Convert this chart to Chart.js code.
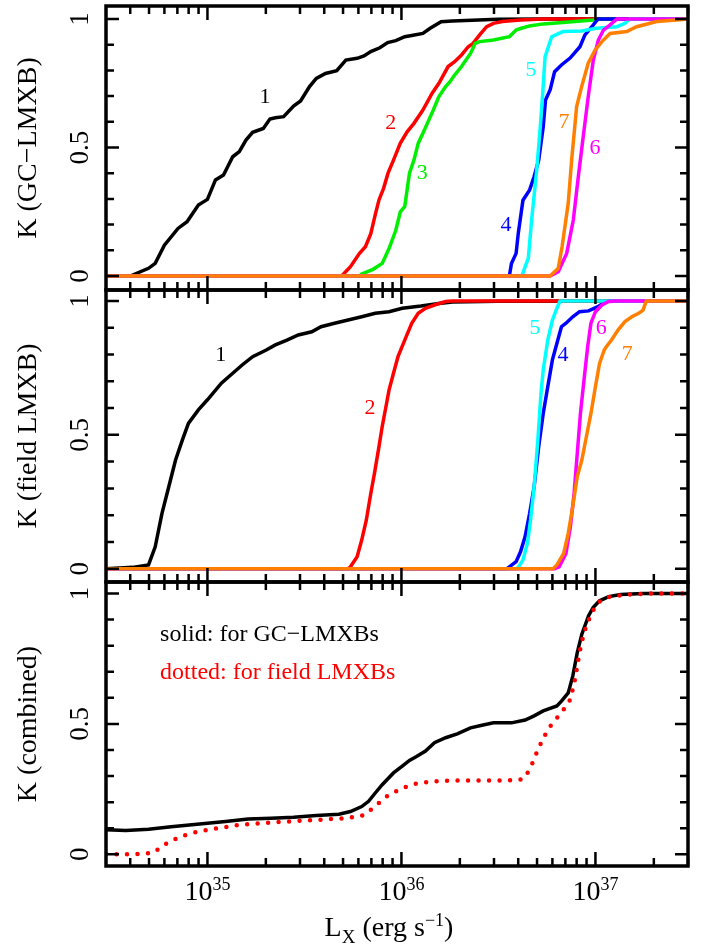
<!DOCTYPE html>
<html>
<head>
<meta charset="utf-8">
<script src="https://cdn.jsdelivr.net/npm/chart.js@4.4.0/dist/chart.umd.min.js"></script>
<style>
  html, body { margin: 0; padding: 0; background: #fff; }
  #wrap { position: relative; width: 710px; height: 946px; }
  #wrap canvas { position: absolute; left: 0; top: 0; }
</style>
</head>
<body>
<div id="wrap">
  <canvas id="panel-gc" width="710" height="946"></canvas>
  <canvas id="panel-field" width="710" height="946"></canvas>
  <canvas id="panel-comb" width="710" height="946"></canvas>
</div>
<script>
// x axis: L_X in erg/s (log), y axis: cumulative fraction K
const X_MIN = 3e34, X_MAX = 3e37;
const xDecades = [35, 36, 37];
const yTickLabels = ['0', '0.5', '1'];

// top panel: GC-LMXB
const gcCurve1 = [[3e34,0],[4.0e34,0],[4.97e34,0.030],[5.38e34,0.049],[6.0e34,0.120],[7.05e34,0.185],[7.85e34,0.211],[8.98e34,0.276],[1.0e35,0.298],[1.10e35,0.374],[1.21e35,0.393],[1.35e35,0.464],[1.46e35,0.484],[1.58e35,0.529],[1.71e35,0.559],[1.94e35,0.574],[2.10e35,0.611],[2.24e35,0.616],[2.47e35,0.620],[2.78e35,0.661],[3.02e35,0.681],[3.36e35,0.737],[3.64e35,0.769],[4.06e35,0.788],[4.64e35,0.799],[5.17e35,0.840],[5.91e35,0.847],[6.41e35,0.856],[6.95e35,0.873],[7.74e35,0.888],[8.49e35,0.908],[9.35e35,0.916],[1.04e36,0.931],[1.13e36,0.936],[1.29e36,0.944],[1.40e36,0.963],[1.60e36,0.989],[1.83e36,0.992],[3.14e36,0.999],[5.38e36,1],[3e37,1]];
const gcCurve2 = [[3e34,0],[4.90e35,0],[5.03e35,0.008],[5.46e35,0.036],[6.08e35,0.088],[6.52e35,0.114],[6.95e35,0.165],[7.33e35,0.239],[7.66e35,0.296],[8.09e35,0.341],[8.53e35,0.400],[9.10e35,0.451],[9.86e35,0.516],[1.07e36,0.561],[1.16e36,0.594],[1.29e36,0.646],[1.44e36,0.711],[1.56e36,0.750],[1.74e36,0.815],[1.88e36,0.834],[2.04e36,0.860],[2.21e36,0.892],[2.34e36,0.905],[2.53e36,0.938],[2.75e36,0.970],[2.98e36,0.983],[3.31e36,0.990],[4.11e36,0.996],[5.38e36,1],[3e37,1]];
const gcCurve3 = [[3e34,0],[6.08e35,0],[6.24e35,0.008],[7.14e35,0.026],[7.96e35,0.049],[8.63e35,0.107],[9.35e35,0.178],[9.87e35,0.250],[1.04e36,0.270],[1.10e36,0.400],[1.16e36,0.451],[1.22e36,0.516],[1.29e36,0.555],[1.36e36,0.594],[1.46e36,0.646],[1.56e36,0.698],[1.69e36,0.737],[1.78e36,0.756],[1.88e36,0.782],[2.04e36,0.815],[2.27e36,0.866],[2.40e36,0.905],[2.53e36,0.912],[2.98e36,0.918],[3.60e36,0.931],[3.90e36,0.957],[4.11e36,0.963],[4.58e36,0.973],[5.38e36,0.981],[7.05e36,0.987],[9.73e36,0.996],[1.08e37,1],[3e37,1]];
const gcCurve4 = [[3e34,0],[3.60e36,0],[3.69e36,0.049],[3.90e36,0.088],[4.00e36,0.165],[4.23e36,0.295],[4.58e36,0.335],[4.83e36,0.387],[5.10e36,0.451],[5.38e36,0.581],[5.53e36,0.685],[5.84e36,0.724],[6.16e36,0.795],[6.68e36,0.821],[7.40e36,0.848],[8.32e36,0.892],[8.83e36,0.938],[9.73e36,0.976],[1.03e37,1],[3e37,1]];
const gcCurve5 = [[3e34,0],[4.17e36,0],[4.51e36,0.070],[4.69e36,0.218],[4.98e36,0.412],[5.18e36,0.568],[5.35e36,0.712],[5.50e36,0.853],[5.95e36,0.931],[6.80e36,0.951],[8.50e36,0.953],[1.01e37,0.964],[1.29e37,0.970],[1.42e37,0.983],[1.50e37,1],[3e37,1]];
const gcCurve6 = [[3e34,0],[5.84e36,0],[6.43e36,0.017],[7.11e36,0.088],[7.69e36,0.218],[8.16e36,0.386],[8.65e36,0.542],[9.18e36,0.698],[9.75e36,0.840],[1.035e37,0.918],[1.10e37,0.957],[1.19e37,0.977],[1.29e37,1],[3e37,1]];
const gcCurve7 = [[3e34,0],[5.84e36,0],[6.43e36,0.030],[6.73e36,0.114],[7.24e36,0.283],[7.54e36,0.451],[8.00e36,0.659],[8.49e36,0.737],[9.18e36,0.828],[9.95e36,0.879],[1.08e37,0.912],[1.19e37,0.944],[1.45e37,0.951],[1.63e37,0.970],[2.07e37,0.990],[2.62e37,0.996],[3e37,1]];

// middle panel: field LMXB
const fdCurve1 = [[3e34,0],[4.11e34,0.005],[4.97e34,0.014],[5.38e34,0.082],[5.83e34,0.207],[6.32e34,0.306],[6.85e34,0.406],[7.43e34,0.481],[7.98e34,0.543],[8.98e34,0.593],[1.0e35,0.631],[1.18e35,0.693],[1.35e35,0.730],[1.51e35,0.761],[1.71e35,0.792],[2.01e35,0.817],[2.24e35,0.836],[2.57e35,0.854],[2.94e35,0.873],[3.45e35,0.885],[3.85e35,0.904],[4.52e35,0.917],[5.31e35,0.929],[6.24e35,0.941],[7.33e35,0.954],[8.63e35,0.960],[1.01e36,0.973],[1.26e36,0.981],[1.56e36,0.991],[1.83e36,0.996],[3.14e36,0.999],[3e37,1]];
const fdCurve2 = [[3e34,0],[5.31e35,0],[5.46e35,0.007],[5.91e35,0.045],[6.24e35,0.107],[6.59e35,0.181],[6.95e35,0.281],[7.26e35,0.356],[7.66e35,0.456],[7.96e35,0.531],[8.26e35,0.593],[8.63e35,0.667],[9.10e35,0.730],[9.60e35,0.792],[1.04e36,0.854],[1.13e36,0.917],[1.22e36,0.954],[1.33e36,0.973],[1.48e36,0.985],[1.69e36,0.998],[1.83e36,1],[3e37,1]];
const fdCurve4 = [[3e34,0],[3.50e36,0],[3.60e36,0.007],[3.90e36,0.026],[4.11e36,0.063],[4.34e36,0.120],[4.58e36,0.207],[4.83e36,0.306],[5.10e36,0.456],[5.38e36,0.580],[5.68e36,0.680],[6.00e36,0.780],[6.26e36,0.829],[6.68e36,0.904],[7.05e36,0.917],[7.64e36,0.941],[8.28e36,0.960],[9.22e36,0.963],[1.03e37,0.979],[1.11e37,0.994],[1.17e37,1],[3e37,1]];
const fdCurve5 = [[3e34,0],[3.90e36,0],[4.00e36,0.005],[4.23e36,0.032],[4.46e36,0.095],[4.63e36,0.182],[4.83e36,0.306],[5.05e36,0.481],[5.24e36,0.655],[5.38e36,0.742],[5.68e36,0.854],[6.00e36,0.929],[6.33e36,0.973],[6.57e36,1],[3e37,1]];
const fdCurve6 = [[3e34,0],[6.16e36,0],[6.50e36,0.007],[7.05e36,0.057],[7.43e36,0.157],[7.76e36,0.281],[8.06e36,0.431],[8.37e36,0.580],[8.73e36,0.705],[9.12e36,0.829],[9.48e36,0.917],[1.0e37,0.960],[1.08e37,0.985],[1.17e37,0.998],[1.27e37,1],[3e37,1]];
const fdCurve7 = [[3e34,0],[6.05e36,0],[6.33e36,0.014],[6.86e36,0.057],[7.24e36,0.132],[7.64e36,0.232],[8.06e36,0.344],[8.51e36,0.406],[8.98e36,0.493],[9.48e36,0.580],[1.0e37,0.680],[1.05e37,0.767],[1.11e37,0.817],[1.14e37,0.830],[1.21e37,0.854],[1.31e37,0.892],[1.42e37,0.923],[1.54e37,0.941],[1.67e37,0.954],[1.76e37,0.966],[1.81e37,0.991],[1.83e37,1],[3e37,1]];

// bottom panel: combined
const combGC = [[3e34,0.094],[3.79e34,0.091],[4.97e34,0.096],[6.50e34,0.106],[1.0e35,0.119],[1.24e35,0.126],[1.62e35,0.135],[2.13e35,0.138],[2.78e35,0.142],[3.64e35,0.149],[4.76e35,0.154],[5.46e35,0.164],[6.24e35,0.183],[6.77e35,0.203],[7.33e35,0.235],[7.96e35,0.267],[9.10e35,0.312],[1.01e36,0.338],[1.10e36,0.360],[1.19e36,0.374],[1.33e36,0.396],[1.48e36,0.428],[1.69e36,0.447],[1.94e36,0.462],[2.27e36,0.485],[2.60e36,0.495],[2.98e36,0.504],[3.69e36,0.504],[4.34e36,0.515],[4.83e36,0.531],[5.38e36,0.550],[6.33e36,0.569],[6.68e36,0.587],[7.24e36,0.619],[7.64e36,0.683],[8.06e36,0.773],[8.51e36,0.844],[9.22e36,0.915],[9.73e36,0.946],[1.05e37,0.972],[1.17e37,0.988],[1.35e37,0.996],[1.76e37,1],[3e37,1]];
const combField = [[3e34,0],[4.23e34,0],[5.24e34,0.006],[6.16e34,0.042],[7.24e34,0.068],[8.51e34,0.083],[1.03e35,0.096],[1.24e35,0.104],[1.46e35,0.113],[1.76e35,0.117],[2.13e35,0.122],[2.64e35,0.126],[3.64e35,0.132],[5.03e35,0.138],[6.24e35,0.147],[6.95e35,0.171],[8.39e35,0.222],[9.87e35,0.251],[1.16e36,0.269],[1.40e36,0.279],[1.83e36,0.283],[3.50e36,0.283],[4.23e36,0.288],[4.58e36,0.324],[4.97e36,0.388],[5.38e36,0.446],[6.00e36,0.504],[6.68e36,0.542],[7.43e36,0.594],[7.85e36,0.671],[8.28e36,0.774],[8.73e36,0.850],[9.48e36,0.921],[1.03e37,0.965],[1.14e37,0.985],[1.42e37,0.995],[1.86e37,1],[3e37,1]];

const curveColors = ['#000000', '#ff0000', '#00ee00', '#0000ff', '#00ffff', '#ff00ff', '#ff7f00'];
const SERIF = '"Liberation Serif", "DejaVu Serif", serif';

function line(points, color, extra) {
  return Object.assign({
    data: points.map(p => ({ x: p[0], y: p[1] })),
    borderColor: color,
    borderWidth: 3.5,
    pointRadius: 0,
    tension: 0,
    fill: false
  }, extra || {});
}

// curve numbers, placed in data coordinates
const gcNumbers = [['1', 1.98e35, 0.697], ['2', 8.8e35, 0.595], ['3', 1.28e36, 0.401], ['4', 3.46e36, 0.198], ['5', 4.66e36, 0.802], ['6', 9.95e36, 0.498], ['7', 6.89e36, 0.599]];
const fdNumbers = [['1', 1.17e35, 0.798], ['2', 6.88e35, 0.600], ['5', 4.88e36, 0.899], ['4', 6.80e36, 0.798], ['6', 1.07e37, 0.899], ['7', 1.46e37, 0.802]];

const axesPlugin = {
  id: 'framedAxes',
  afterDatasetsDraw(chart, args, opts) {
    const ctx = chart.ctx;
    const { left, right, top, bottom } = chart.chartArea;
    const x = chart.scales.x, y = chart.scales.y;
    ctx.save();
    ctx.strokeStyle = '#000';
    ctx.lineCap = 'butt';

    // x ticks on top and bottom edges, pointing inward
    ctx.lineWidth = 2.5;
    ctx.beginPath();
    for (let d = 34; d <= 37; d++) {
      for (let m = 1; m <= 9; m++) {
        const v = m * Math.pow(10, d);
        if (v < X_MIN || v > X_MAX) continue;
        const px = x.getPixelForValue(v);
        const len = m === 1 ? 14 : 8;
        ctx.moveTo(px, top); ctx.lineTo(px, top + len);
        ctx.moveTo(px, bottom); ctx.lineTo(px, bottom - len);
      }
    }
    // y ticks on left and right edges
    for (let i = 0; i <= 10; i++) {
      const py = y.getPixelForValue(i / 10);
      const len = i % 5 === 0 ? 13 : 8;
      ctx.moveTo(left, py); ctx.lineTo(left + len, py);
      ctx.moveTo(right, py); ctx.lineTo(right - len, py);
    }
    ctx.stroke();

    ctx.lineWidth = 3.5;
    ctx.strokeRect(left, top, right - left, bottom - top);

    // y tick labels, rotated
    ctx.fillStyle = '#000';
    ctx.font = '27px ' + SERIF;
    ctx.textAlign = 'center';
    ctx.textBaseline = 'alphabetic';
    yTickLabels.forEach(t => {
      const py = y.getPixelForValue(parseFloat(t));
      ctx.save();
      ctx.translate(left - 18, py);
      ctx.rotate(-Math.PI / 2);
      ctx.fillText(t, 0, 0);
      ctx.restore();
    });

    // y title
    ctx.font = '28px ' + SERIF;
    ctx.save();
    ctx.translate(36, (top + bottom) / 2);
    ctx.rotate(-Math.PI / 2);
    ctx.fillText(opts.title, 0, 0);
    ctx.restore();

    // curve numbers
    ctx.font = '22px ' + SERIF;
    ctx.textBaseline = 'middle';
    (opts.numbers || []).forEach(n => {
      ctx.fillStyle = curveColors[parseInt(n[0], 10) - 1];
      ctx.fillText(n[0], x.getPixelForValue(n[1]), y.getPixelForValue(n[2]));
    });

    // notes
    ctx.textAlign = 'left';
    ctx.textBaseline = 'alphabetic';
    ctx.font = '24px ' + SERIF;
    (opts.notes || []).forEach(n => {
      ctx.fillStyle = n.color;
      ctx.fillText(n.text, x.getPixelForValue(n.x), y.getPixelForValue(n.y));
    });

    if (opts.showX) {
      ctx.fillStyle = '#000';
      xDecades.forEach(d => {
        const px = x.getPixelForValue(Math.pow(10, d));
        ctx.font = '28px ' + SERIF;
        const wBase = ctx.measureText('10').width;
        ctx.font = '18px ' + SERIF;
        const wExp = ctx.measureText(String(d)).width;
        const x0 = px - (wBase + wExp) / 2;
        ctx.font = '28px ' + SERIF;
        ctx.fillText('10', x0, 900);
        ctx.font = '18px ' + SERIF;
        ctx.fillText(String(d), x0 + wBase, 890);
      });
      // axis title: L_X (erg s^-1)
      const parts = [
        { t: 'L', f: 28, dy: 0 },
        { t: 'X', f: 19, dy: 7 },
        { t: ' (erg s', f: 28, dy: 0 },
        { t: '\u22121', f: 18, dy: -10 },
        { t: ')', f: 28, dy: 0 }
      ];
      let total = 0;
      parts.forEach(p => { ctx.font = p.f + 'px ' + SERIF; p.w = ctx.measureText(p.t).width; total += p.w; });
      let cx = 389 - total / 2;
      parts.forEach(p => {
        ctx.font = p.f + 'px ' + SERIF;
        ctx.fillText(p.t, cx, 936 + p.dy);
        cx += p.w;
      });
    }
    ctx.restore();
  }
};

// Chart.js paints the first dataset on top, so the lists are reversed to paint in reference order
function makePanel(id, datasets, area, opts) {
  const span = area.y0 - area.y1;
  new Chart(document.getElementById(id), {
    type: 'line',
    data: { datasets: datasets.slice().reverse() },
    options: {
      responsive: false,
      animation: false,
      layout: { padding: { left: 106, right: 22, top: area.top, bottom: 946 - area.bottom } },
      plugins: { legend: { display: false }, tooltip: { enabled: false }, framedAxes: opts },
      scales: {
        x: { type: 'logarithmic', min: X_MIN, max: X_MAX, display: false },
        y: { type: 'linear', min: -(area.bottom - area.y0) / span, max: 1 + (area.y1 - area.top) / span, display: false }
      }
    },
    plugins: [axesPlugin]
  });
}

makePanel('panel-gc',
  [gcCurve1, gcCurve2, gcCurve3, gcCurve4, gcCurve5, gcCurve6, gcCurve7].map((c, i) => line(c, curveColors[i])),
  { top: 6, bottom: 290, y1: 19, y0: 276 },
  { title: 'K (GC\u2212LMXB)', numbers: gcNumbers });

makePanel('panel-field',
  [[fdCurve1, 0], [fdCurve2, 1], [fdCurve4, 3], [fdCurve5, 4], [fdCurve6, 5], [fdCurve7, 6]].map(c => line(c[0], curveColors[c[1]])),
  { top: 290, bottom: 582, y1: 301, y0: 568.7 },
  { title: 'K (field LMXB)', numbers: fdNumbers });

makePanel('panel-comb',
  [line(combGC, '#000000'), line(combField, '#ff0000', { borderWidth: 4.5, borderDash: [0, 10.5], borderCapStyle: 'round' })],
  { top: 582, bottom: 866, y1: 593.5, y0: 854.3 },
  { title: 'K (combined)', showX: true,
    notes: [{ text: 'solid: for GC\u2212LMXBs', color: '#000', x: 5.7e34, y: 0.818 },
            { text: 'dotted: for field LMXBs', color: '#ff0000', x: 5.7e34, y: 0.673 }] });
</script>
</body>
</html>
